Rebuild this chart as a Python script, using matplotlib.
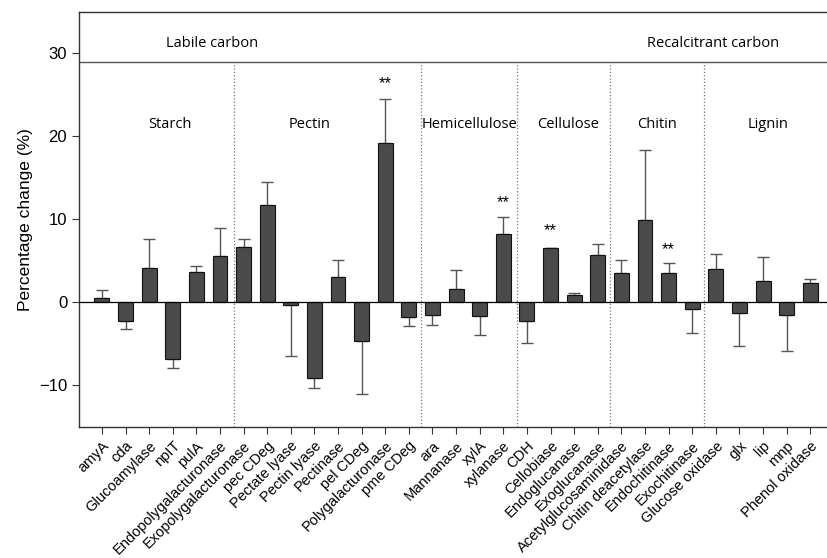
import matplotlib.pyplot as plt
import numpy as np

# enzyme names and values
enzymes = ['amyA', 'cda', 'Glucoamylase', 'npIT', 'pulA', 'Endopolygalacturonase',
           'Exopolygalacturonase', 'pec CDeg', 'Pectate lyase', 'Pectin lyase', 'Pectinase',
           'pel CDeg', 'Polygalacturonase', 'pme CDeg',
           'ara', 'Mannanase', 'xylA', 'xylanase',
           'CDH', 'Cellobiase', 'Endoglucanase', 'Exoglucanase',
           'Acetylglucosaminidase', 'Chitin deacetylase', 'Endochitinase', 'Exochitinase',
           'Glucose oxidase', 'glx', 'lip', 'mnp', 'Phenol oxidase']
change = [0.6, -2.2, 4.2, -6.8, 3.7, 5.6,
          6.7, 11.8, -0.3, -9.1, 3.05, -4.7, 19.2, -1.8,
          -1.45, 1.6, -1.65, 8.2,
          -2.2, 6.55, 0.9, 5.7,
          3.5, 9.9, 3.5, -0.75,
          4.0, -1.3, 2.6, -1.5, 2.4]
err = [0.9, 1.0, 3.4, 1.1, 0.7, 3.4,
       1.0, 2.7, 6.2, 1.2, 2.05, 6.3, 5.3, 1.0,
       1.25, 2.3, 2.25, 2.1,
       2.7, 0.0, 0.2, 1.4,
       1.6, 8.5, 1.2, 2.95,
       1.8, 4.0, 2.9, 4.4, 0.4]
signif = ['Polygalacturonase', 'xylanase', 'Cellobiase', 'Endochitinase']
star_y = [26.4, 12.0, 8.7, 6.4]

groups = ['Starch', 'Pectin', 'Hemicellulose', 'Cellulose', 'Chitin', 'Lignin']
group_x = [2.88, 8.8, 15.56, 19.75, 23.5, 28.2]
bounds = [5.6, 13.5, 17.6, 21.5, 25.5]

plt.rcParams['font.family'] = ['Liberation Sans', 'DejaVu Sans']

fig = plt.figure(figsize=(8.28, 5.58), dpi=100)
ax = fig.add_axes([0.0954, 0.2348, 0.9046, 0.7437])

x = np.arange(len(enzymes))
vals = np.array(change)
errs = np.array(err)
# one-sided error bars, in the direction of the bar
lower = np.where(vals < 0, errs, 0)
upper = np.where(vals >= 0, errs, 0)
ax.bar(x, vals, width=0.63, color='#4a4a4a', edgecolor='#111111', linewidth=0.8, zorder=3)
ax.errorbar(x, vals, yerr=[lower, upper], fmt='none', ecolor='#555555',
            elinewidth=1.0, capsize=4, capthick=1.0, zorder=2)

ax.axhline(0, color='black', linewidth=0.9, zorder=4)
ax.axhline(29, color='#555555', linewidth=1.0)
for b in bounds:
    ax.plot([b, b], [-15, 29], color='#777777', linestyle=':', linewidth=0.9)

for name, sy in zip(signif, star_y):
    ax.text(enzymes.index(name), sy, '**', ha='center', va='center', fontsize=12)

for g, gx in zip(groups, group_x):
    ax.text(gx, 21.4, g, ha='center', va='center', fontsize=10.5, family=['Open Sans', 'DejaVu Sans'])
ax.text(4.65, 31.2, 'Labile carbon', ha='center', va='center', fontsize=10.5,
        family=['Open Sans', 'DejaVu Sans'])
ax.text(25.9, 31.2, 'Recalcitrant carbon', ha='center', va='center', fontsize=10.5,
        family=['Open Sans', 'DejaVu Sans'])

ax.set_xlim(-0.97, 30.75)
ax.set_ylim(-15, 35)
ax.set_yticks([-10, 0, 10, 20, 30])
ax.set_yticklabels(['\u221210', '0', '10', '20', '30'], fontsize=12)
ax.set_xticks(x)
ax.set_xticklabels(enzymes, rotation=45, ha='right', rotation_mode='anchor', fontsize=10.5)
ax.tick_params(axis='both', direction='out', length=5, color='#333333')
ax.set_ylabel('Percentage change (%)', fontsize=12.5)

ax.spines['right'].set_visible(False)
for s in ['left', 'top', 'bottom']:
    ax.spines[s].set_color('#333333')
    ax.spines[s].set_linewidth(1.0)

fig.savefig('out.png', dpi=100)
